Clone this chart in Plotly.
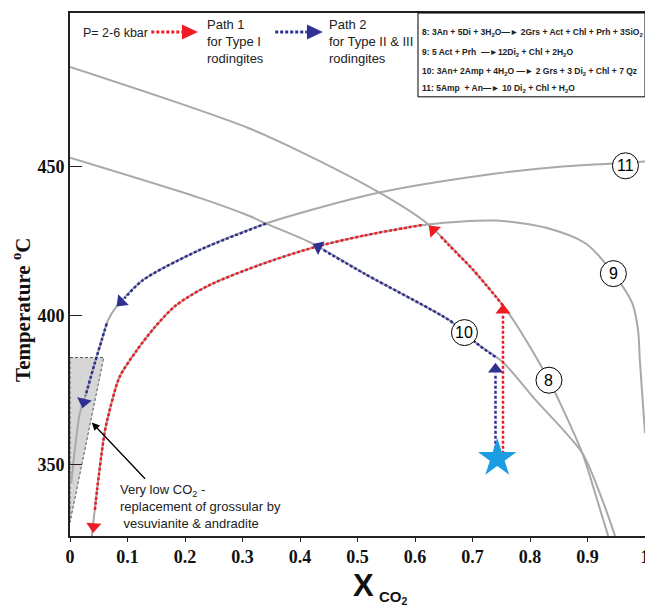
import plotly.graph_objects as go

# ---------------- data (X_CO2, Temperature °C) ----------------
c8_x = [0, 0.178, 0.310, 0.397, 0.538, 0.621, 0.753, 0.833, 0.850, 0.891, 0.917, 0.936]
c8_t = [483.4, 472.0, 462.9, 455.3, 441.2, 430.8, 403.3, 378.2, 371.5, 353.7, 337.9, 325.9]

c9_x = [0.038, 0.047, 0.060, 0.066, 0.086, 0.116, 0.147, 0.184, 0.241, 0.328, 0.422,
        0.512, 0.621, 0.741, 0.828, 0.897, 0.945, 0.978, 0.988, 0.991, 1.0]
c9_t = [325.9, 341.3, 360.4, 365.8, 379.2, 388.2, 395.9, 403.3, 410.0, 416.8, 422.7,
        426.8, 430.5, 431.8, 429.4, 424.1, 414.0, 404.0, 394.9, 384.9, 360.4]

c10_x = [0, 0.224, 0.310, 0.341, 0.422, 0.512, 0.660, 0.686, 0.707, 0.753, 0.810, 0.891, 0.926, 0.948]
c10_t = [452.9, 439.5, 433.5, 430.8, 424.1, 414.0, 398.3, 394.3, 390.6, 384.2, 371.5, 353.7, 337.9, 325.9]

c11_x = [0.002, 0.009, 0.017, 0.028, 0.043, 0.055, 0.066, 0.081, 0.126, 0.224, 0.341,
         0.538, 0.741, 0.857, 0.966, 1.0]
c11_t = [343.6, 355.7, 367.1, 373.8, 383.9, 391.6, 398.3, 403.0, 411.7, 421.8, 430.8,
         441.2, 447.6, 450.0, 451.2, 451.6]

# Path 1 (Type I rodingites) segments
p1a_x = [0.753, 0.753]
p1a_t = [353.5, 400.0]
p1b_x = [0.753, 0.700, 0.660, 0.645]
p1b_t = [403.3, 415.5, 423.3, 426.4]
p1c_x = [0.612, 0.512, 0.422, 0.328, 0.241, 0.184, 0.147, 0.116, 0.086, 0.066, 0.060, 0.047, 0.043]
p1c_t = [430.3, 426.8, 422.7, 416.8, 410.0, 403.3, 395.9, 388.2, 379.2, 365.8, 360.4, 341.3, 334.0]

# Path 2 (Type II & III rodingites) segments
p2a_x = [0.740, 0.740]
p2a_t = [353.5, 380.5]
p2b_x = [0.740, 0.707, 0.686, 0.660, 0.512, 0.440]
p2b_t = [386.0, 390.6, 394.3, 398.3, 414.0, 422.0]
p2c_x = [0.341, 0.224, 0.126, 0.095]
p2c_t = [430.8, 421.8, 411.7, 405.7]
p2d_x = [0.064, 0.055, 0.043, 0.027]
p2d_t = [397.3, 391.6, 383.9, 373.0]

# arrowheads: (prev_x, prev_t, head_x, head_t)
red_heads = [(0.753, 395.0, 0.753, 401.7),
             (0.660, 423.3, 0.632, 428.6),
             (0.044, 337.0, 0.041, 329.1)]
blue_heads = [(0.740, 375.0, 0.740, 381.9),
              (0.470, 419.5, 0.432, 423.0),
              (0.110, 408.5, 0.089, 404.5),
              (0.028, 374.5, 0.024, 370.9)]

# starting point (star)
star_x = [0.743]
star_t = [352.0]

# shaded low-CO2 field
shade_x = [0, 0.0586, 0, 0]
shade_t = [385.8, 385.8, 330.5, 385.8]

# reaction labels
lbl_names = ["11", "9", "10", "8"]
lbl_x = [0.966, 0.945, 0.686, 0.833]
lbl_t = [450.2, 414.0, 394.2, 378.2]

x_ticks = [0, 0.1, 0.2, 0.3, 0.4, 0.5, 0.6, 0.7, 0.8, 0.9, 1]
x_ticklabels = ["0", "0.1", "0.2", "0.3", "0.4", "0.5", "0.6", "0.7", "0.8", "0.9", "1"]
y_ticks = [350, 400, 450]

reactions = [
    "8: 3An + 5Di + 3H<sub>2</sub>O\u2014\u25ba 2Grs + Act + Chl + Prh + 3SiO<sub>2</sub>",
    "9: 5 Act + Prh  \u2014\u25ba12Di<sub>2</sub> + Chl + 2H<sub>2</sub>O",
    "10: 3An+ 2Amp + 4H<sub>2</sub>O \u2014\u25ba 2 Grs + 3 Di<sub>2</sub> + Chl + 7 Qz",
    "11: 5Amp  + An\u2014\u25ba 10 Di<sub>2</sub> + Chl + H<sub>2</sub>O",
]

RED = "#ee1c24"
BLUE = "#2e3192"
GRAY = "#a9a9a9"
DOT = "3px,2px"

fig = go.Figure()

fig.add_trace(go.Scatter(x=shade_x, y=shade_t, mode="lines", fill="toself",
                         fillcolor="#d6d6d6",
                         line=dict(color="#555555", width=1, dash="3px,2px")))

for cx, ct in [(c8_x, c8_t), (c9_x, c9_t), (c10_x, c10_t), (c11_x, c11_t)]:
    fig.add_trace(go.Scatter(x=cx, y=ct, mode="lines",
                             line=dict(color=GRAY, width=2, shape="spline", smoothing=0.8)))

for px_, pt_ in [(p1a_x, p1a_t), (p1b_x, p1b_t), (p1c_x, p1c_t)]:
    fig.add_trace(go.Scatter(x=px_, y=pt_, mode="lines",
                             line=dict(color=RED, width=2.5, dash=DOT, shape="spline", smoothing=0.8)))
for px_, pt_ in [(p2a_x, p2a_t), (p2b_x, p2b_t), (p2c_x, p2c_t), (p2d_x, p2d_t)]:
    fig.add_trace(go.Scatter(x=px_, y=pt_, mode="lines",
                             line=dict(color=BLUE, width=2.5, dash=DOT, shape="spline", smoothing=0.8)))

for heads, col in [(red_heads, RED), (blue_heads, BLUE)]:
    for (x0, t0, x1, t1) in heads:
        fig.add_trace(go.Scatter(x=[x0, x1], y=[t0, t1], mode="markers",
                                 marker=dict(symbol="triangle-up", size=[0, 13], color=col,
                                             opacity=1, angleref="previous", line=dict(width=0))))

fig.add_trace(go.Scatter(x=star_x, y=star_t, mode="markers",
                         marker=dict(symbol="star", size=29, color="#1b9de2", opacity=1,
                                     line=dict(width=0))))

shapes = []
for nx, nt in zip(lbl_x, lbl_t):
    shapes.append(dict(type="circle", xref="x", yref="y", xsizemode="pixel", ysizemode="pixel",
                       xanchor=nx, yanchor=nt, x0=-13, x1=13, y0=-13, y1=13,
                       fillcolor="white", line=dict(color="black", width=1)))
# reaction box
shapes.append(dict(type="rect", xref="paper", yref="paper", x0=0.6052, x1=1.0, y0=0.8397, y1=1.0,
                   fillcolor="white", line=dict(color="black", width=1)))
# legend arrows
shapes.append(dict(type="line", xref="paper", yref="paper", x0=0.1414, x1=0.197, y0=0.9637, y1=0.9637,
                   line=dict(color=RED, width=3, dash=DOT)))
shapes.append(dict(type="path", xref="paper", yref="paper",
                   path="M 0.1948 0.9780 L 0.2224 0.9637 L 0.1948 0.9494 Z",
                   fillcolor=RED, line=dict(width=0)))
shapes.append(dict(type="line", xref="paper", yref="paper", x0=0.3569, x1=0.412, y0=0.9637, y1=0.9637,
                   line=dict(color=BLUE, width=3, dash=DOT)))
shapes.append(dict(type="path", xref="paper", yref="paper",
                   path="M 0.4121 0.9780 L 0.4397 0.9637 L 0.4121 0.9494 Z",
                   fillcolor=BLUE, line=dict(width=0)))

ann = []
for name, nx, nt in zip(lbl_names, lbl_x, lbl_t):
    ann.append(dict(x=nx, y=nt, xref="x", yref="y", text=name, showarrow=False,
                    xanchor="center", yanchor="middle",
                    font=dict(family="Liberation Sans, Arial", size=16, color="black")))

sans = "Liberation Sans, Arial, sans-serif"
ann.append(dict(x=0.019, y=0.9618, xref="paper", yref="paper", text="P= 2-6 kbar",
                showarrow=False, xanchor="left", yanchor="middle",
                font=dict(family=sans, size=12.5, color="#222")))
ann.append(dict(x=0.2345, y=0.9447, xref="paper", yref="paper",
                text="Path 1<br>for Type I<br>rodingites", align="left",
                showarrow=False, xanchor="left", yanchor="middle",
                font=dict(family=sans, size=13, color="#222")))
ann.append(dict(x=0.4466, y=0.9447, xref="paper", yref="paper",
                text="Path 2<br>for Type II &amp; III<br>rodingites", align="left",
                showarrow=False, xanchor="left", yanchor="middle",
                font=dict(family=sans, size=13, color="#222")))

for txt, yy in zip(reactions, [0.9618, 0.9237, 0.8874, 0.8550]):
    ann.append(dict(x=0.6086, y=yy, xref="paper", yref="paper", text="<b>" + txt + "</b>",
                    showarrow=False, xanchor="left", yanchor="middle",
                    font=dict(family=sans, size=8.5, color="#222")))

ann.append(dict(x=0.0828, y=0.0573, xref="paper", yref="paper",
                text="Very low CO<sub>2</sub> -<br>replacement of grossular by<br>\u00a0vesuvianite &amp; andradite",
                align="left", showarrow=False, xanchor="left", yanchor="middle",
                font=dict(family=sans, size=13, color="#222")))
ann.append(dict(x=0.038, y=364.0, xref="x", yref="y", ax=0.133, ay=344.6, axref="x", ayref="y",
                text="", showarrow=True, arrowhead=2, arrowsize=1.2, arrowwidth=1.3,
                arrowcolor="black"))

ann.append(dict(x=-0.0845, y=0.433, xref="paper", yref="paper", xanchor="center", yanchor="middle",
                text="<b>Temperature <sup>o</sup>C</b>", textangle=-90, showarrow=False,
                font=dict(family="Liberation Serif, Times New Roman, serif", size=21, color="#111")))
ann.append(dict(x=0.5103, y=-0.0954, xref="paper", yref="paper", text="<b>X</b>",
                xanchor="center", yanchor="middle",
                showarrow=False, font=dict(family=sans, size=31, color="#111")))
ann.append(dict(x=0.534, y=-0.117, xref="paper", yref="paper", text="<b>CO<sub>2</sub></b>",
                showarrow=False, xanchor="left", yanchor="middle",
                font=dict(family=sans, size=15, color="#111")))

serif_tick = dict(family="Liberation Serif, Times New Roman, serif", size=18, color="#111", weight="bold")

# page body has an 8px margin: size the figure so the plot area sits where the reference's does
fig.update_layout(
    width=645, height=599,
    margin=dict(l=62, r=3, t=4, b=71),
    paper_bgcolor="white", plot_bgcolor="white",
    showlegend=False,
    shapes=shapes, annotations=ann,
    xaxis=dict(range=[0, 1], tickvals=x_ticks, ticktext=x_ticklabels, ticks="outside",
               ticklen=4, tickwidth=1.2, tickcolor="#222", showgrid=False, zeroline=False,
               showline=True, linecolor="#222", linewidth=1.6, mirror=True,
               tickfont=serif_tick),
    yaxis=dict(range=[325.9, 501.5], tickvals=y_ticks, ticks="inside", ticklen=12,
               tickwidth=1.2, tickcolor="#222", showgrid=False, zeroline=False,
               showline=True, linecolor="#222", linewidth=1.6, mirror=True,
               tickfont=serif_tick),
)

fig.write_html("out.html")
